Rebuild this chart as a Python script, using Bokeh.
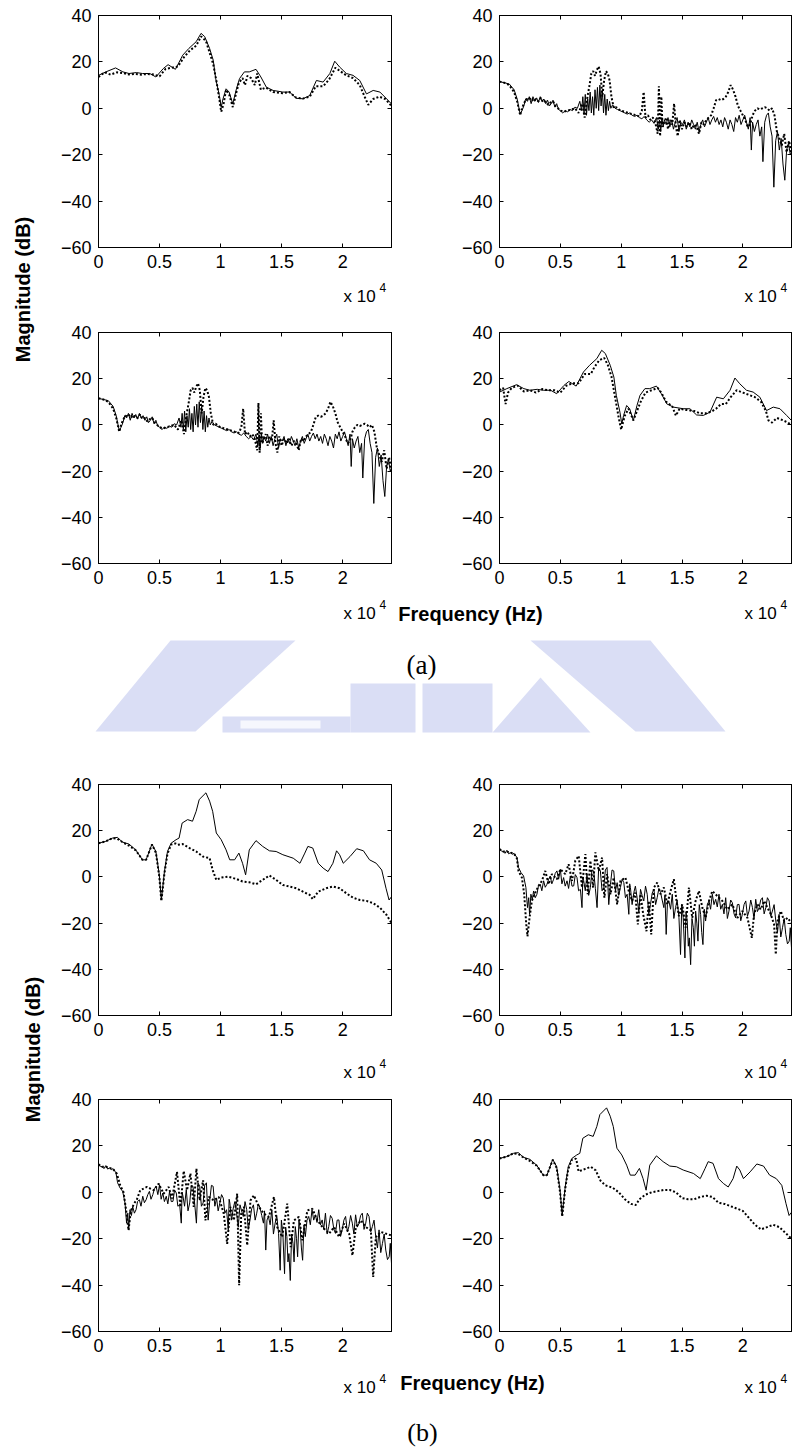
import math
from bokeh.plotting import figure
from bokeh.layouts import row, column
from bokeh.models import Range1d, FixedTicker, LinearAxis
from bokeh.core.properties import value
from bokeh.embed import file_html
from bokeh.resources import INLINE

# ---------------- data (frequency in Hz, magnitude in dB) ----------------
X_TICKS = [0, 5000, 10000, 15000, 20000]
X_TICK_LABELS = ["0", "0.5", "1", "1.5", "2"]
Y_TICKS = [-60, -40, -20, 0, 20, 40]
F_MAX = 24000
Y_MIN, Y_MAX = -60, 40

# (a) smooth response: solid curve (top-left and bottom-right panels)
A_SMOOTH_SOLID = [(0, 14.2), (600, 15.7), (1400, 17.4), (2000, 15.7), (2500, 15), (3100, 15.4), (3600, 15),
                  (4200, 15), (4700, 13.5), (5300, 17.1), (5700, 18.8), (6300, 16.8), (6900, 22.9), (7400, 25.8),
                  (8000, 28.7), (8400, 32.3), (8700, 30.9), (9100, 25.8), (9400, 20.7), (9600, 12.8), (9900, 5.5),
                  (10050, 0.4), (10200, 4.1), (10450, 8.4), (10700, 7), (11000, 1.9), (11300, 8.4), (11550, 12.8),
                  (11950, 15.7), (12350, 15.7), (12900, 16.8), (13300, 13.5), (13750, 9.1), (14300, 7.7), (15100, 7),
                  (15650, 7), (16200, 4.3), (16750, 4.1), (17300, 5.5), (17850, 12), (18400, 11.3), (18950, 15),
                  (19350, 20.3), (19750, 17.8), (20300, 15), (20850, 14.2), (21400, 12), (21950, 6.2), (22500, 7.7),
                  (23050, 7), (23600, 4.1), (24000, 1.9)]

A_TL_DOTTED = [(0, 13.5), (500, 15.5), (1000, 14.5), (1500, 15.5), (2000, 15.2), (2500, 14.6), (3000, 14.8),
               (3500, 14.5), (4000, 14.8), (4500, 14.6), (5000, 13.8), (5500, 17), (6000, 17.5), (6500, 18),
               (7000, 22), (7500, 25), (8000, 27), (8400, 31), (8800, 29), (9100, 24), (9400, 19), (9650, 12),
               (9900, 4), (10050, -1.5), (10250, 2), (10450, 8), (10700, 6), (11000, 0.5), (11250, 6), (11500, 11),
               (11800, 13), (12000, 10), (12200, 14), (12500, 13), (12800, 10), (13000, 15), (13300, 8), (13700, 9),
               (14300, 7), (15100, 6.5), (15650, 7), (16200, 4.5), (16750, 4.2), (17300, 5), (17800, 9.5),
               (18400, 9.5), (18900, 12.5), (19400, 17.5), (19800, 16), (20300, 14.2), (20850, 13), (21400, 10),
               (21800, 5), (22100, 1.5), (22500, 4), (23000, 5), (23500, 4), (24000, 1)]

A_BR_DOTTED = [(0, 15), (300, 16), (500, 9), (700, 14), (1000, 16), (1500, 17), (2000, 14.5), (2500, 15),
               (3000, 14), (3500, 15.5), (4000, 15), (4500, 15), (5000, 14), (5500, 17), (6000, 18), (6500, 18),
               (7000, 22), (7500, 22), (7800, 25), (8200, 28), (8600, 29), (8900, 26), (9200, 21), (9500, 12),
               (9800, 3), (10000, -2), (10300, 4), (10600, 7), (11000, 2), (11300, 6), (11600, 10), (12000, 14),
               (12500, 15), (13000, 16), (13300, 14), (13700, 10), (14200, 8), (14500, 4), (14800, 7), (15300, 6.5),
               (16000, 6), (16500, 5), (17000, 5), (17500, 6), (17800, 7), (18200, 9), (18600, 9), (19000, 12),
               (19500, 15), (20000, 14), (20500, 13), (21000, 12), (21500, 10), (21900, 6), (22100, 2), (22400, 1),
               (22800, 3), (23300, 2), (23700, 1), (24000, 0)]

# (a) noisy response: solid curve (top-right and bottom-left panels)
A_NOISY_SOLID = [(0, 11.5), (400, 11), (800, 10.5), (1200, 8), (1450, 4), (1700, -2.5), (1850, -1), (2000, 1),
                 (2150, 4), (2300, 3), (2450, 5), (2600, 2), (2750, 5), (2900, 3), (3050, 4.5), (3200, 2.5),
                 (3350, 5), (3500, 3), (3650, 4), (3800, 2), (3950, 3.5), (4100, 1), (4250, 2), (4400, 3.5),
                 (4550, 0.5), (4700, 2), (4850, -0.5), (5000, -1), (5200, -2), (5400, -1), (5600, -1.5),
                 (5800, -0.5), (6000, -1), (6200, 0.5), (6400, 0), (6600, 3), (6750, -1), (6850, 5), (6950, -2),
                 (7050, 6), (7150, -3), (7250, 4), (7350, -1), (7450, 7), (7550, -2), (7650, 5), (7750, -3),
                 (7850, 8), (7950, 0), (8050, 9), (8150, -1), (8250, 10), (8350, 1), (8450, 8), (8550, -2),
                 (8650, 6), (8750, -3), (8850, 4), (8950, -1), (9050, 3), (9150, 0), (9300, 1.5), (9500, 0),
                 (9700, -0.5), (9900, -1), (10100, -1.5), (10300, -2), (10500, -2.5), (10700, -2), (10900, -3),
                 (11100, -3.5), (11300, -3), (11500, -4), (11700, -4.5), (11900, -3.5), (12100, -5), (12300, -6),
                 (12500, -5), (12700, -6.5), (12900, -4), (13050, -9), (13150, -5), (13250, -10), (13350, -4),
                 (13450, -8), (13550, -5), (13700, -7), (13850, -4), (14000, -8), (14150, -5), (14300, -9),
                 (14450, -6), (14600, -4), (14750, -10), (14900, -6), (15050, -7), (15200, -5), (15350, -9),
                 (15500, -6), (15650, -8), (15800, -5), (15950, -7), (16100, -9), (16250, -6), (16400, -10),
                 (16550, -7), (16700, -5), (16850, -8), (17000, -6), (17150, -4), (17300, -7), (17450, -5),
                 (17600, -3.5), (17750, -6), (17900, -4), (18050, -7), (18200, -5), (18350, -8), (18500, -4),
                 (18650, -6), (18800, -9), (18950, -5), (19100, -7), (19250, -10), (19400, -4), (19550, -6),
                 (19700, -3), (19850, -7), (20000, -5), (20150, -3), (20300, -6), (20450, -9), (20600, -4),
                 (20700, -18), (20800, -6), (20950, -10), (21100, -7), (21250, -5), (21400, -12), (21550, -8),
                 (21650, -23), (21800, -6), (21950, -3), (22100, -2), (22250, -8), (22400, -12), (22550, -34),
                 (22700, -14), (22850, -10), (23000, -18), (23150, -13), (23300, -24), (23450, -31), (23600, -18),
                 (23750, -15), (23900, -20), (24000, -19)]

A_NOISY_DOTTED = [(0, 11.5), (400, 11), (800, 10), (1200, 7), (1450, 3), (1700, -3), (1850, 0), (2000, 2),
                  (2200, 4), (2400, 3.5), (2600, 4.5), (2800, 3), (3000, 4), (3200, 3), (3400, 4.5), (3600, 2.5),
                  (3800, 3), (4000, 1.5), (4200, 2.5), (4400, 3), (4600, 1), (4800, 0), (5000, -1), (5300, -1.5),
                  (5600, -1), (5900, -0.5), (6200, 0), (6500, -2), (6800, 2), (7000, -4), (7200, 4), (7400, 10),
                  (7550, 15), (7700, 16), (7850, 14), (8000, 16.5), (8150, 18), (8300, 15), (8450, 5), (8600, 12),
                  (8750, 16), (8900, 15), (9050, 12), (9200, 5), (9400, 0), (9600, 0.5), (9800, -0.5), (10000, -1),
                  (10300, -1.5), (10600, -2), (10900, -2.5), (11200, -3), (11500, -3.5), (11700, -1), (11850, 7),
                  (12000, -4), (12200, -3), (12400, -5), (12600, -4), (12800, -6), (13000, -11), (13100, 9.5),
                  (13200, -12), (13300, 5), (13400, -8), (13550, -6), (13700, -4), (13850, -9), (14000, -5),
                  (14200, -7), (14350, 2), (14500, -8), (14650, -12), (14800, -5), (15000, -9), (15200, -6),
                  (15400, -8), (15600, -6), (15800, -9), (16000, -7), (16200, -8), (16400, -11), (16600, -6),
                  (16800, -7), (17000, -5), (17200, -4), (17400, -3), (17600, 0), (17800, 3.5), (18000, 4),
                  (18200, 3.5), (18400, 4), (18600, 5), (18800, 7), (19000, 10), (19200, 8), (19400, 5), (19600, 1),
                  (19800, -1), (20000, -3), (20200, -5), (20400, -8), (20600, -7), (20800, -3), (21000, -1),
                  (21200, 0), (21400, -0.5), (21600, 0), (21800, 0.5), (22000, 0), (22200, -1), (22400, 0),
                  (22600, -3), (22800, -10), (23000, -13), (23200, -16), (23400, -11), (23600, -19), (23800, -14),
                  (24000, -20)]

# (b) smooth response: solid curve (top-left and bottom-right panels)
B_SMOOTH_SOLID = [(0, 14.6), (600, 15.4), (1150, 16.8), (1550, 17.1), (1950, 15.1), (2500, 14.2), (3050, 11.7),
                  (3600, 7.4), (3900, 7.4), (4380, 14.2), (4700, 11), (4980, 0.9), (5150, -10), (5400, 2.3),
                  (5650, 11), (5950, 14.6), (6350, 16.1), (6600, 16.8), (6850, 23.3), (7300, 24.8), (7700, 24.1),
                  (8000, 28.4), (8250, 33.5), (8800, 36.4), (9100, 32.8), (9350, 28.4), (9650, 19), (10050, 16.1),
                  (10450, 11.7), (10750, 7.4), (11150, 7.4), (11500, 10.3), (11800, 5.9), (12050, 0.9),
                  (12350, 11.7), (12900, 15.7), (13450, 13.2), (14000, 11.3), (14550, 11), (15100, 9.6),
                  (15950, 8.1), (16500, 5.9), (16900, 10.3), (17150, 13.2), (17550, 12.5), (18000, 5.9),
                  (18400, 3.8), (18800, 2.3), (19200, 5.9), (19500, 11.3), (19750, 9.6), (20050, 5.9), (20600, 8.8),
                  (21150, 12.2), (21700, 11.3), (22200, 7.4), (22750, 5.9), (23200, 3), (23550, -4.9),
                  (23800, -10), (24000, -8.6)]

B_TL_DOTTED = [(0, 14.6), (600, 15.4), (1150, 16.8), (1550, 16.5), (1950, 15.1), (2500, 13.5), (3050, 11.5),
               (3600, 7.4), (3900, 7.4), (4380, 14), (4700, 10.5), (4980, 0), (5150, -10.5), (5400, 1.5),
               (5650, 10), (5950, 14), (6300, 14.5), (6500, 13.9), (6900, 14.2), (7450, 12.5), (8000, 11),
               (8550, 8.8), (9100, 8.1), (9350, 3), (9650, -1.3), (10050, -0.3), (10600, 0.1), (11300, -0.9),
               (11800, -2), (12350, -2.3), (12900, -3.2), (13450, -1.3), (14000, 0.6), (14550, -1.3), (15100, -3.5),
               (15650, -4.2), (16200, -4.9), (16750, -6.4), (17300, -7.8), (17550, -9.6), (18000, -6.4),
               (18650, -4.9), (19200, -4.2), (19750, -4.9), (20300, -7.1), (20850, -9), (21400, -10),
               (21950, -10.4), (22500, -11.4), (23050, -13.3), (23600, -16.5), (24000, -20)]

B_BR_DOTTED = [(0, 14.6), (600, 15.4), (1150, 16.8), (1550, 16.5), (1950, 15.1), (2500, 13.5), (3050, 11.5),
               (3600, 7.4), (3900, 7.4), (4380, 14), (4700, 10.5), (4980, 0), (5150, -10.5), (5400, 1.5),
               (5650, 10), (5950, 14), (6300, 14.5), (6500, 9), (7000, 10), (7500, 11), (7900, 9.5), (8300, 5),
               (8700, 3), (9300, 2), (9800, 0), (10300, -3), (10800, -5), (11200, -5.5), (11500, -3), (12000, -1),
               (12500, 0), (13000, 0.5), (13500, 1), (14000, 1), (14500, 0), (15000, -2.5), (15500, -3),
               (16000, -3), (16500, -2), (17000, -1.5), (17500, -2), (18000, -4.5), (18500, -5), (19000, -6),
               (19500, -7), (20000, -8), (20500, -11), (21000, -14), (21500, -16), (22000, -15), (22500, -14),
               (23000, -15), (23500, -17.5), (24000, -20)]

# (b) noisy response: solid curve (top-right and bottom-left panels)
B_NOISY_SOLID = [(0, 12), (150, 11.2), (300, 11), (450, 10.2), (600, 11.5), (750, 10), (900, 10.5), (1050, 9.8),
                 (1200, 10.2), (1430, 8.4), (1565, 4.1), (1760, 1.9), (1980, 0.4), (2170, -4.6), (2300, -13.3),
                 (2400, -9), (2470, -16.2), (2580, -7.5), (2700, -10), (2800, -6.1), (2940, -9), (3075, -7.5),
                 (3200, -4), (3350, -3.2), (3480, -6), (3625, -1.7), (3760, -4.5), (3900, -3.2), (4040, -1),
                 (4170, 0.4), (4300, -3), (4450, -1.0), (4580, 1.5), (4720, 2.6), (4860, -1), (5000, 3.3),
                 (5130, -3), (5270, -0.3), (5400, -4), (5550, -1.7), (5680, -5), (5820, 0.4), (5960, -4),
                 (6100, -3.9), (6230, 1), (6370, -0.3), (6500, -6), (6650, -5.4), (6780, -13.3), (6850, 0),
                 (6920, -1.7), (7050, -6), (7190, 1.2), (7330, -8), (7470, -4.6), (7600, 3), (7740, 2.6),
                 (7880, -5), (8020, -13.3), (8150, 4), (8290, 2.6), (8430, -6), (8570, -4.6), (8700, 3),
                 (8840, 4.1), (8980, -12), (9120, -3.2), (9250, 3), (9390, 2.6), (9530, -6), (9670, -2.5),
                 (9800, -8), (9940, -4.6), (10080, -1), (10220, -2.5), (10350, -9), (10490, -7.5), (10630, -16.2),
                 (10700, -3), (10760, -4.6), (10900, -12), (11040, -6.8), (11170, -4), (11310, -9.0), (11450, -15),
                 (11590, -5.4), (11720, -8), (11860, -10.4), (12000, -4), (12140, -7.5), (12270, -16),
                 (12410, -11.9), (12550, -7), (12690, -5.4), (12830, -12), (12960, -9.0), (13100, -5),
                 (13240, -6.8), (13370, -10), (13510, -13.3), (13600, -8), (13700, -24.9), (13800, -12),
                 (13920, -10.4), (14060, -14), (14200, -7.5), (14330, -18), (14470, -13.3), (14600, -10),
                 (14750, -17.7), (14880, -33.6), (14980, -12), (15100, -17.7), (15240, -35.1), (15330, -15),
                 (15430, -19.1), (15520, -30), (15600, -26.4), (15710, -38.0), (15820, -18), (15930, -22.0),
                 (16020, -30), (16120, -14.8), (16220, -20), (16310, -27.8), (16420, -12), (16530, -16.2),
                 (16620, -24), (16720, -29.3), (16830, -14), (16940, -19.1), (17080, -12), (17220, -10.4),
                 (17350, -14), (17490, -7.5), (17630, -12), (17770, -9.7), (17900, -13), (18040, -7.5),
                 (18180, -14), (18320, -11.9), (18450, -16), (18590, -9.0), (18730, -18), (18860, -14.8),
                 (19000, -10), (19140, -11.2), (19280, -16), (19410, -17.7), (19550, -12), (19690, -11.9),
                 (19830, -19), (19960, -16.2), (20100, -12), (20240, -10.4), (20380, -17), (20510, -14.8),
                 (20650, -10), (20790, -13.3), (20920, -18), (21060, -9.7), (21200, -15), (21340, -13.3),
                 (21470, -10), (21610, -9.0), (21750, -16), (21890, -13.3), (22020, -9), (22160, -10.4),
                 (22300, -17), (22430, -14.8), (22570, -12), (22710, -19.1), (22850, -24), (22980, -16.2),
                 (23120, -26), (23260, -22.0), (23400, -18), (23530, -24.9), (23670, -29), (23810, -27.8),
                 (23900, -22), (24000, -30.7)]

B_TR_DOTTED = [(0, 12), (300, 11), (600, 11), (900, 10.5), (1200, 10), (1430, 8), (1560, 2.6), (1840, -0.3),
               (2030, -7.5), (2200, -20.6), (2300, -25.7), (2470, -17.7), (2660, -10.4), (2940, -6.8), (3210, -3.9),
               (3490, -1.7), (3760, 2.6), (4040, -3.2), (4310, 1.2), (4720, -1.0), (5000, 3.3), (5410, 1.2),
               (5680, 5.5), (5960, -1.7), (6230, 7.0), (6510, 9.1), (6780, -4.6), (7060, 9.9), (7250, -7.5),
               (7470, 7.0), (7690, -4.6), (7880, 10.6), (8160, 2.6), (8430, 8.4), (8620, -9.0), (8840, 1.2),
               (9120, -7.5), (9390, -0.3), (9670, -11.9), (9940, -1.7), (10350, -0.3), (10620, -6.1),
               (10900, -10.4), (11150, -6.8), (11370, -20.6), (11590, -7.5), (11810, -16.2), (12080, -23.5),
               (12270, -10.4), (12470, -24.9), (12690, -4.6), (12960, -2.5), (13240, -7.5), (13510, -4.6),
               (13790, -11.9), (14060, -6.1), (14330, -1.0), (14550, -10.4), (14750, -17.0), (15020, -11.9),
               (15300, -22.0), (15570, -4.6), (15840, -17.7), (16120, -10.4), (16390, -6.1), (16670, -13.3),
               (16940, -17.7), (17220, -10.4), (17490, -6.1), (17900, -8.3), (18320, -10.4), (18730, -14.1),
               (19140, -11.9), (19550, -17.7), (19960, -14.8), (20380, -17.7), (20740, -26.4), (20920, -16.2),
               (21200, -11.9), (21470, -14.1), (21750, -10.4), (22020, -13.3), (22300, -16.2), (22570, -20.6),
               (22710, -33.6), (22850, -19.1), (23120, -14.8), (23400, -19.1), (23670, -17.7), (24000, -19.9)]

B_BL_DOTTED = [(0, 12), (300, 11), (600, 11), (900, 10.5), (1200, 10), (1500, 8), (1780, 3), (2050, 0),
               (2270, -8), (2460, -16.4), (2650, -8), (2900, -5), (3150, -3), (3420, 0.9), (3970, 2.3), (4520, 0.9),
               (4930, 3.7), (5340, -0.6), (5750, 2.3), (6020, -2.7), (6430, 8.8), (6710, -6.3), (6980, 9.2),
               (7250, 0.9), (7530, 8.1), (7800, -6.3), (8020, 10.2), (8290, -3.5), (8570, 5.2), (8760, -12.1),
               (9030, -2.0), (9440, -3.5), (9850, -2.0), (10260, -9.2), (10540, -22.2), (10810, -6.3),
               (11090, -12.1), (11360, -0.6), (11520, -40.1), (11690, -9.2), (11910, -6.3), (12180, -22.9),
               (12450, -3.5), (12730, -1.3), (13140, -6.3), (13550, -9.2), (13960, -10.6), (14370, -2.0),
               (14640, -15.0), (15050, -19.3), (15460, -4.9), (15740, -23.6), (16010, -12.1), (16420, -10.6),
               (16700, -20.7), (17110, -7.8), (17520, -7.1), (17930, -12.1), (18340, -15.0), (18890, -17.8),
               (19300, -15.0), (19710, -19.3), (20120, -13.5), (20530, -17.8), (20800, -27.2), (21080, -15.0),
               (21490, -12.1), (21900, -15.0), (22310, -16.4), (22500, -36.5), (22720, -19.3), (23130, -17.1),
               (23540, -17.8), (24000, -18.6)]

# ---------------- styling helpers ----------------
TICK_FONT = "Liberation Sans"
WM_COLOR = "#dadef5"


def axes_fig(width, b_left, b_right, height, b_top, b_bottom):
    p = figure(width=width, height=height, x_range=Range1d(0, F_MAX), y_range=Range1d(Y_MIN, Y_MAX),
               output_backend="svg", toolbar_location=None,
               min_border_left=b_left, min_border_right=b_right,
               min_border_top=b_top, min_border_bottom=b_bottom)
    p.xgrid.visible = False
    p.ygrid.visible = False
    p.outline_line_color = "black"
    p.outline_line_width = 1
    p.background_fill_color = "white"
    p.border_fill_color = "white"

    p.xaxis.ticker = FixedTicker(ticks=X_TICKS)
    p.xaxis.major_label_overrides = {t: l for t, l in zip(X_TICKS, X_TICK_LABELS)}
    p.yaxis.ticker = FixedTicker(ticks=Y_TICKS)
    for ax in (p.xaxis, p.yaxis):
        ax.major_tick_in = 4
        ax.major_tick_out = 0
        ax.minor_tick_in = 0
        ax.minor_tick_out = 0
        ax.axis_line_color = "black"
        ax.major_tick_line_color = "black"
        ax.major_label_text_font = TICK_FONT
        ax.major_label_text_font_size = "18px"
        ax.major_label_text_color = "black"
    p.xaxis.major_label_standoff = 7
    p.yaxis.major_label_standoff = 7

    top = LinearAxis(ticker=FixedTicker(ticks=X_TICKS),
                     major_label_overrides={t: "" for t in X_TICKS},
                     major_label_text_font_size="0px", major_label_standoff=0,
                     major_tick_in=4, major_tick_out=0, minor_tick_in=0, minor_tick_out=0,
                     axis_line_color="black", major_tick_line_color="black")
    right = LinearAxis(ticker=FixedTicker(ticks=Y_TICKS),
                       major_label_overrides={t: "" for t in Y_TICKS},
                       major_label_text_font_size="0px", major_label_standoff=0,
                       major_tick_in=4, major_tick_out=0, minor_tick_in=0, minor_tick_out=0,
                       axis_line_color="black", major_tick_line_color="black")
    p.add_layout(top, "above")
    p.add_layout(right, "right")
    return p


def draw(p, solid, dotted):
    fs = [a for a, _ in solid]
    ms = [b for _, b in solid]
    fd = [a for a, _ in dotted]
    md = [b for _, b in dotted]
    p.line(fs, ms, line_color="black", line_width=1)
    p.line(fd, md, line_color="black", line_width=2, line_dash="2 2")


def strip(width, height):
    p = figure(width=width, height=height, x_range=Range1d(0, width), y_range=Range1d(0, height),
               output_backend="svg", toolbar_location=None, min_border=0,
               min_border_left=0, min_border_right=0, min_border_top=0, min_border_bottom=0,
               x_axis_type=None, y_axis_type=None)
    p.outline_line_color = None
    p.background_fill_color = "white"
    p.border_fill_color = "white"
    return p


def put(p, left, top, x, y, txt, size, font=TICK_FONT, style="normal", align="center", angle=0.0):
    p.text(x=[x - left], y=[p.height - (y - top)], text=[txt], angle=angle,
           text_font=value(font), text_font_size=value(size), text_font_style=style,
           text_align=align, text_baseline="middle", text_color="black")


def xten(p, left, top, x, y):
    put(p, left, top, x, y, "x 10", "17px", align="left")
    put(p, left, top, x + 36, y - 9, "4", "12px", align="left")


LEFT = 45

# ---------------- panels ----------------
fa1 = axes_fig(395, 53, 49, 278, 15, 31)
draw(fa1, A_SMOOTH_SOLID, A_TL_DOTTED)
fa2 = axes_fig(355, 59, 4, 278, 15, 31)
draw(fa2, A_NOISY_SOLID, A_NOISY_DOTTED)
fa3 = axes_fig(395, 53, 49, 275, 12, 32)
draw(fa3, A_NOISY_SOLID, A_NOISY_DOTTED)
fa4 = axes_fig(355, 59, 4, 275, 12, 32)
draw(fa4, A_SMOOTH_SOLID, A_BR_DOTTED)

fb1 = axes_fig(395, 53, 49, 278, 14, 33)
draw(fb1, B_SMOOTH_SOLID, B_TL_DOTTED)
fb2 = axes_fig(355, 59, 4, 278, 14, 33)
draw(fb2, B_NOISY_SOLID, B_TR_DOTTED)
fb3 = axes_fig(395, 53, 49, 274, 9, 33)
draw(fb3, B_NOISY_SOLID, B_BL_DOTTED)
fb4 = axes_fig(355, 59, 4, 274, 9, 33)
draw(fb4, B_SMOOTH_SOLID, B_BR_DOTTED)

# ---------------- text strips ----------------
s_left = strip(LEFT, 1450)
put(s_left, 0, 0, 22, 289, "Magnitude (dB)", "20px", style="bold", angle=math.pi / 2)
put(s_left, 0, 0, 32, 1049, "Magnitude (dB)", "20px", style="bold", angle=math.pi / 2)

S1_TOP = 278
s1 = strip(750, 42)          # page y 278..320
xten(s1, LEFT, S1_TOP, 343, 296)
xten(s1, LEFT, S1_TOP, 744, 296)

S2_TOP = 595
s2 = strip(750, 175)         # page y 595..770
# watermark (pale logo)
wm_polys = [
    [(170, 640), (295, 640), (195, 731), (95, 731)],
    [(530, 640), (650, 640), (725, 731), (635, 731)],
    [(350, 683), (415, 683), (415, 732), (350, 732)],
    [(422, 683), (492, 683), (492, 732), (422, 732)],
    [(492, 732), (540, 677), (590, 732)],
    [(222, 716), (350, 716), (350, 732), (222, 732)],
]
s2.patches(xs=[[x - LEFT for x, _ in poly] for poly in wm_polys],
           ys=[[s2.height - (y - S2_TOP) for _, y in poly] for poly in wm_polys],
           fill_color=WM_COLOR, line_color=None)
s2.quad(left=[240 - LEFT], right=[320 - LEFT], bottom=[s2.height - (728 - S2_TOP)],
        top=[s2.height - (720 - S2_TOP)], fill_color="#f6f7fd", line_color=None)
xten(s2, LEFT, S2_TOP, 343, 613)
xten(s2, LEFT, S2_TOP, 744, 613)
put(s2, LEFT, S2_TOP, 470, 613, "Frequency (Hz)", "20px", style="bold")
put(s2, LEFT, S2_TOP, 421, 664, "(a)", "27px", font="Liberation Serif")

S3_TOP = 1048
s3 = strip(750, 42)          # page y 1048..1090
xten(s3, LEFT, S3_TOP, 343, 1072)
xten(s3, LEFT, S3_TOP, 744, 1072)

S4_TOP = 1364
s4 = strip(750, 86)          # page y 1364..1450
xten(s4, LEFT, S4_TOP, 343, 1387)
xten(s4, LEFT, S4_TOP, 744, 1387)
put(s4, LEFT, S4_TOP, 472, 1382, "Frequency (Hz)", "20px", style="bold")
put(s4, LEFT, S4_TOP, 422, 1432, "(b)", "26px", font="Liberation Serif")

main = column(
    row(fa1, fa2),
    s1,
    row(fa3, fa4),
    s2,
    row(fb1, fb2),
    s3,
    row(fb3, fb4),
    s4,
)
layout = row(s_left, main)

open("out.html", "w").write(file_html(layout, INLINE))
